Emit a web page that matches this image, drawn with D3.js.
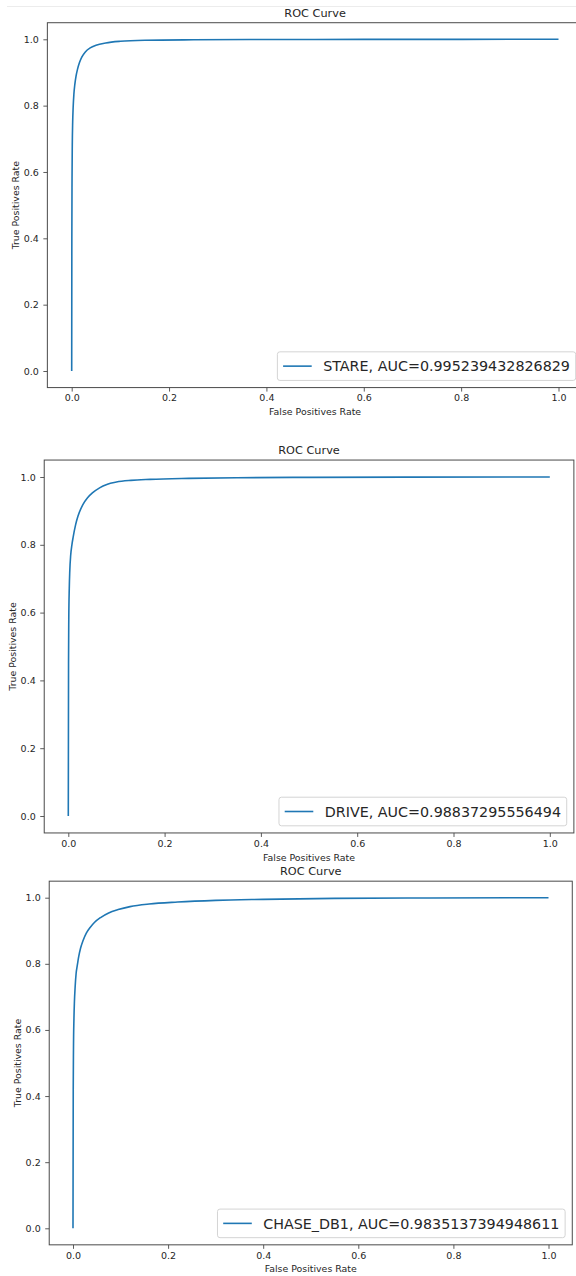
<!DOCTYPE html>
<html>
<head>
<meta charset="utf-8">
<script src="https://cdn.jsdelivr.net/npm/d3@7"></script>
<style>
  html, body { margin: 0; padding: 0; background: #fff; }
  svg { display: block; }
  text { font-family: "DejaVu Sans", sans-serif; fill: #262626; }
</style>
</head>
<body>
<svg id="chart" width="576" height="1276"></svg>
<script>
// ---------------- data ----------------
const titles = ["ROC Curve", "ROC Curve", "ROC Curve"];
const xLabel = "False Positives Rate";
const yLabel = "True Positives Rate";
const tickValues = [0.0, 0.2, 0.4, 0.6, 0.8, 1.0];
const tickLabels = ["0.0", "0.2", "0.4", "0.6", "0.8", "1.0"];
const legendLabels = [
  "STARE, AUC=0.995239432826829",
  "DRIVE, AUC=0.98837295556494",
  "CHASE_DB1, AUC=0.9835137394948611"
];

const stareFpr = [0, 0.0003, 0.0007, 0.0012, 0.002, 0.003, 0.0045, 0.0065, 0.009, 0.012, 0.016, 0.021, 0.028, 0.038, 0.05, 0.07, 0.1, 0.15, 0.25, 0.4, 0.6, 1.0];
const stareTpr = [0, 0.40, 0.58, 0.68, 0.75, 0.795, 0.835, 0.865, 0.89, 0.91, 0.93, 0.947, 0.962, 0.974, 0.982, 0.989, 0.994, 0.997, 0.9985, 0.9993, 0.9997, 1.0];

const driveFpr = [0, 0.0005, 0.001, 0.002, 0.003, 0.005, 0.0075, 0.01, 0.015, 0.02, 0.03, 0.04, 0.05, 0.065, 0.08, 0.1, 0.13, 0.17, 0.25, 0.35, 0.5, 0.7, 1.0];
const driveTpr = [0, 0.45, 0.58, 0.67, 0.72, 0.77, 0.80, 0.822, 0.858, 0.884, 0.918, 0.939, 0.953, 0.968, 0.978, 0.985, 0.990, 0.993, 0.996, 0.998, 0.999, 0.9997, 1.0];

const chaseFpr = [0, 0.0005, 0.001, 0.002, 0.003, 0.0045, 0.0065, 0.009, 0.012, 0.016, 0.021, 0.028, 0.036, 0.045, 0.058, 0.075, 0.095, 0.12, 0.16, 0.22, 0.3, 0.4, 0.55, 0.75, 1.0];
const chaseTpr = [0, 0.42, 0.54, 0.635, 0.685, 0.73, 0.77, 0.795, 0.822, 0.848, 0.87, 0.893, 0.91, 0.925, 0.94, 0.954, 0.964, 0.973, 0.981, 0.987, 0.992, 0.995, 0.998, 0.9993, 1.0];

const seriesFpr = [stareFpr, driveFpr, chaseFpr];
const seriesTpr = [stareTpr, driveTpr, chaseTpr];

// ---------------- layout (pixel positions of value 0 and 1 on each axis) ----------------
const layouts = [
  { x0: 71.7, x1: 558.5, y0: 371.0, y1: 39.3 },
  { x0: 68.3, x1: 549.8, y0: 816.0, y1: 477.0 },
  { x0: 73.0, x1: 548.5, y0: 1228.3, y1: 897.7 }
];

const svg = d3.select("#chart");

// faint screenshot line at top
svg.append("line").attr("x1", 7).attr("x2", 576).attr("y1", 6.5).attr("y2", 6.5)
  .attr("stroke", "#ececec").attr("stroke-width", 1);

const lineColor = "#1f77b4";
const frameColor = "#4a4a4a";
const legendFont = 14.3;

layouts.forEach((L, i) => {
  const x = d3.scaleLinear().domain([0, 1]).range([L.x0, L.x1]);
  const y = d3.scaleLinear().domain([0, 1]).range([L.y0, L.y1]);
  const left = x(-0.05), right = x(1.05), top = y(1.05), bottom = y(-0.05);
  const g = svg.append("g");

  // curve
  const pts = seriesFpr[i].map((f, k) => [f, seriesTpr[i][k]]);
  g.append("path").datum(pts)
    .attr("fill", "none").attr("stroke", lineColor).attr("stroke-width", 1.6)
    .attr("stroke-linejoin", "round")
    .attr("d", d3.line().x(d => x(d[0])).y(d => y(d[1])).curve(d3.curveMonotoneX));

  // axes
  const fmt = (d) => tickLabels[tickValues.indexOf(d)];
  const xAxis = d3.axisBottom(x).tickValues(tickValues).tickFormat(fmt).tickSizeInner(4).tickSizeOuter(0).tickPadding(3);
  const yAxis = d3.axisLeft(y).tickValues(tickValues).tickFormat(fmt).tickSizeInner(4).tickSizeOuter(0).tickPadding(4.5);

  const gx = g.append("g").attr("transform", `translate(0,${bottom})`).call(xAxis);
  const gy = g.append("g").attr("transform", `translate(${left},0)`).call(yAxis);
  [gx, gy].forEach(a => {
    a.select(".domain").remove();
    a.selectAll(".tick line").attr("stroke", frameColor).attr("stroke-width", 0.9);
    a.selectAll(".tick text").attr("fill", "#262626")
      .style("font-family", '"DejaVu Sans", sans-serif').style("font-size", "9.5px");
  });

  // frame
  g.append("rect").attr("x", left).attr("y", top)
    .attr("width", right - left).attr("height", bottom - top)
    .attr("fill", "none").attr("stroke", frameColor).attr("stroke-width", 1);

  // title
  g.append("text").attr("x", (left + right) / 2).attr("y", top - 10).attr("dy", "0.35em")
    .attr("text-anchor", "middle").style("font-size", "11.3px").text(titles[i]);

  // x label
  g.append("text").attr("x", (left + right) / 2).attr("y", bottom + 24.3).attr("dy", "0.35em")
    .attr("text-anchor", "middle").style("font-size", "9.4px").text(xLabel);

  // y label
  g.append("text")
    .attr("transform", `translate(${left - 31.5},${(top + bottom) / 2}) rotate(-90)`)
    .attr("dy", "0.35em").attr("text-anchor", "middle").style("font-size", "9.4px").text(yLabel);

  // legend (lower right)
  const pad = 0.4 * legendFont, axPad = 0.5 * legendFont;
  const handleLen = 2.0 * legendFont, handleGap = 0.8 * legendFont;
  const lg = g.append("g");
  const box = lg.append("rect");
  const txt = lg.append("text").style("font-size", legendFont + "px").text(legendLabels[i]);
  const tw = txt.node().getComputedTextLength();
  const bw = pad + handleLen + handleGap + tw + pad;
  const bh = legendFont * 1.2 + 2 * pad;
  const bx = right - axPad - bw, by = bottom - axPad - bh;
  box.attr("x", bx).attr("y", by).attr("width", bw).attr("height", bh)
    .attr("rx", 2.5).attr("fill", "#fff").attr("fill-opacity", 0.8)
    .attr("stroke", "#d4d4d4").attr("stroke-width", 1);
  const cy = by + bh / 2;
  lg.append("line").attr("x1", bx + pad).attr("x2", bx + pad + handleLen)
    .attr("y1", cy).attr("y2", cy).attr("stroke", lineColor).attr("stroke-width", 1.6);
  txt.attr("x", bx + pad + handleLen + handleGap).attr("y", cy).attr("dy", "0.36em");
});
</script>
</body>
</html>
